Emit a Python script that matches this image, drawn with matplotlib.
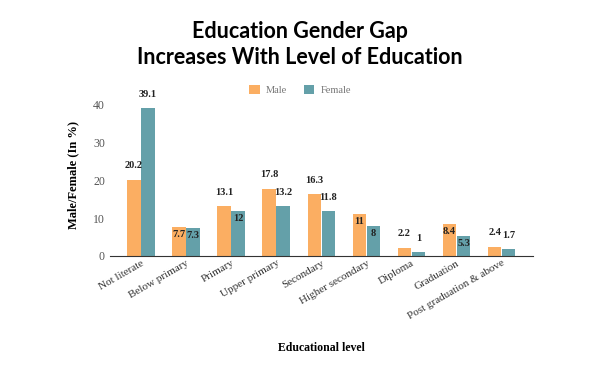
import numpy as np
import matplotlib.pyplot as plt

levels = ['Not literate', 'Below primary', 'Primary', 'Upper primary', 'Secondary',
          'Higher secondary', 'Diploma', 'Graduation', 'Post graduation & above']
male = [20.2, 7.7, 13.1, 17.8, 16.3, 11, 2.2, 8.4, 2.4]
female = [39.1, 7.3, 12, 13.2, 11.8, 8, 1, 5.3, 1.7]
male_text = ['20.2', '7.7', '13.1', '17.8', '16.3', '11', '2.2', '8.4', '2.4']
female_text = ['39.1', '7.3', '12', '13.2', '11.8', '8', '1', '5.3', '1.7']
# label inside bar top (True) or above bar (False)
male_inside = [False, True, False, False, False, True, False, True, False]
female_inside = [False, True, True, False, False, True, False, True, False]

c_male = '#FBAE62'
c_female = '#64A0A9'
serif = ['Liberation Serif', 'DejaVu Serif']

fig = plt.figure(figsize=(6, 3.73), dpi=100)
ax = fig.add_axes([0.183, 0.314, 0.705, 0.435])

x = np.arange(len(levels))
w = 0.3
ax.bar(x - 0.155, male, width=w, color=c_male, label='Male')
ax.bar(x + 0.155, female, width=w, color=c_female, label='Female')

for xs, vals, txts, inside in [(x - 0.155, male, male_text, male_inside),
                               (x + 0.155, female, female_text, female_inside)]:
    for a, v, t, ins in zip(xs, vals, txts, inside):
        dy = -2.0 if ins else 3.7
        ax.text(a, v + dy, t, ha='center', va='center', fontsize=7.5,
                fontweight='bold', family=serif, color='#222222')

ax.set_xlim(-0.69, 8.69)
ax.set_ylim(0, 43)
ax.set_yticks([0, 10, 20, 30, 40])
ax.tick_params(axis='y', length=0, labelsize=8.5, labelcolor='#555555', pad=3.5)
for lb in ax.get_yticklabels():
    lb.set_family(serif)
ax.tick_params(axis='x', length=0, pad=2)
ax.set_xticks(x)
ax.set_xticklabels(levels, rotation=30, ha='right', rotation_mode='anchor',
                   family=serif, fontsize=8, color='#333333')
for s in ['top', 'right', 'left']:
    ax.spines[s].set_visible(False)
ax.spines['bottom'].set_color('#333333')

ax.set_ylabel('Male/Female (In %)', family=serif, fontweight='bold', fontsize=9,
              labelpad=10)
fig.text(0.535, 0.067, 'Educational level', ha='center', va='center', family=serif,
         fontweight='bold', fontsize=8.5)

fig.suptitle('Education Gender Gap\nIncreases With Level of Education', x=0.5, y=0.945,
             family='Lato', fontweight='bold', fontsize=15.5, linespacing=1.3)

fig.legend(loc='center', bbox_to_anchor=(0.5, 0.758), ncol=2, frameon=False,
           prop={'family': serif, 'size': 7.5}, labelcolor='#777777',
           handlelength=1, handleheight=1, handletextpad=0.6, columnspacing=1.6)

fig.savefig('out.png', dpi=100)
